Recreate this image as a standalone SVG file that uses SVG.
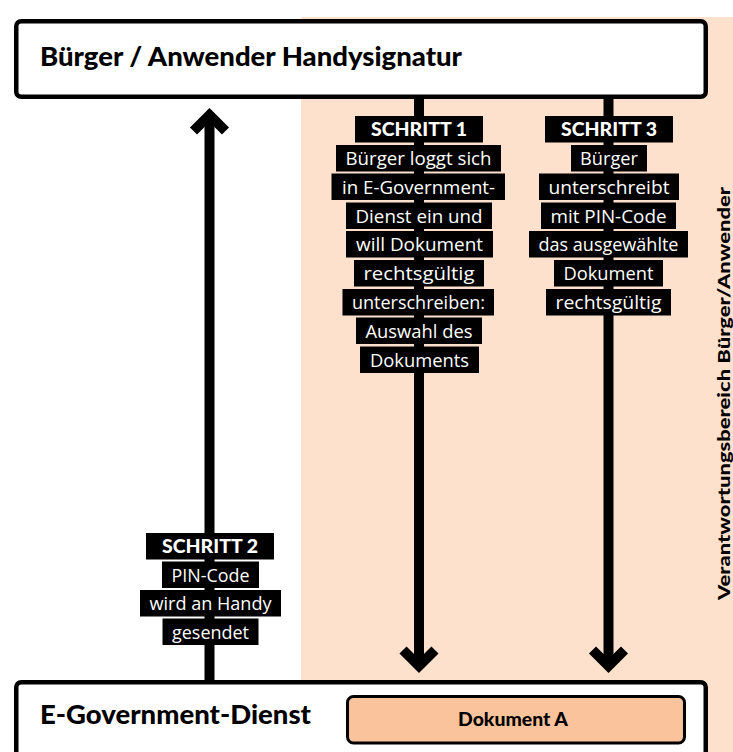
<svg xmlns="http://www.w3.org/2000/svg" width="733" height="752" viewBox="0 0 733 752">
<style>
  .node { fill: #ffffff; stroke: #000; stroke-width: 4.5; }
  .doc { fill: #fbc39b; stroke: #000; stroke-width: 3; }
  .title { font-family: Lato, "Liberation Sans", sans-serif; font-weight: 900; fill: #000; }
  .shaft { stroke: #000; stroke-width: 10; fill: none; }
  .head { stroke: #000; stroke-width: 10; fill: none; stroke-linejoin: miter; stroke-miterlimit: 10; }
  .lbl rect { fill: #000; }
  .lbl text { font-family: "Open Sans", "Liberation Sans", sans-serif; font-size: 18.5px; fill: #fff; text-anchor: middle; }
  .lbl text.step { font-family: Lato, "Liberation Sans", sans-serif; font-weight: 900; font-size: 18px; }
</style>
<rect id="zone" x="301" y="17" width="432" height="735" fill="#fde1cc"/>
<text class="title" font-size="16.5" transform="translate(729.5,393.5) rotate(-90)" text-anchor="middle" textLength="413" lengthAdjust="spacingAndGlyphs">Verantwortungsbereich Bürger/Anwender</text>

<g id="connectors">
  <line class="shaft" x1="419" y1="97" x2="419" y2="666"/>
  <polyline class="head" points="403,650 419,666 435,650"/>
  <line class="shaft" x1="608.5" y1="97" x2="608.5" y2="666"/>
  <polyline class="head" points="592.5,650 608.5,666 624.5,650"/>
  <line class="shaft" x1="209.5" y1="682" x2="209.5" y2="115"/>
  <polyline class="head" points="193.5,131 209.5,115 225.5,131"/>
</g>

<g id="node-buerger">
  <rect class="node" x="16.25" y="21.25" width="689.5" height="75.5" rx="5"/>
  <text class="title" x="40" y="65.5" font-size="26" textLength="422" lengthAdjust="spacingAndGlyphs">Bürger / Anwender Handysignatur</text>
</g>

<g id="node-egov">
  <rect class="node" x="16.25" y="682.25" width="689.5" height="100" rx="5"/>
  <text class="title" x="40" y="724" font-size="27" textLength="271" lengthAdjust="spacingAndGlyphs">E-Government-Dienst</text>
  <g id="node-dokument">
    <rect class="doc" x="347.5" y="696.5" width="337" height="46.5" rx="6"/>
    <text class="title" x="513" y="725.5" font-size="19" text-anchor="middle" textLength="110" lengthAdjust="spacingAndGlyphs">Dokument A</text>
  </g>
</g>

<g id="label-step1" class="lbl">
  <rect x="355" y="116" width="128" height="26.5"/><text class="step" x="419" y="135.5" textLength="96" lengthAdjust="spacingAndGlyphs">SCHRITT 1</text>
  <rect x="336" y="145" width="165" height="26.5"/><text x="418.5" y="165" textLength="146" lengthAdjust="spacingAndGlyphs">Bürger loggt sich</text>
  <rect x="331.5" y="173.5" width="173.5" height="26.5"/><text x="418.5" y="193.5" textLength="153" lengthAdjust="spacingAndGlyphs">in E-Government-</text>
  <rect x="346" y="202.5" width="146" height="26.5"/><text x="419" y="222.5" textLength="127" lengthAdjust="spacingAndGlyphs">Dienst ein und</text>
  <rect x="346" y="231" width="147" height="26.5"/><text x="419.5" y="251" textLength="127" lengthAdjust="spacingAndGlyphs">will Dokument</text>
  <rect x="354" y="260" width="130" height="26.5"/><text x="419" y="280" textLength="111" lengthAdjust="spacingAndGlyphs">rechtsgültig</text>
  <rect x="342.5" y="289" width="151.5" height="26.5"/><text x="418.5" y="309" textLength="133" lengthAdjust="spacingAndGlyphs">unterschreiben:</text>
  <rect x="356" y="317.5" width="126" height="26.5"/><text x="419" y="337.5" textLength="107" lengthAdjust="spacingAndGlyphs">Auswahl des</text>
  <rect x="360" y="346.5" width="119" height="26.5"/><text x="419.5" y="366.5" textLength="99" lengthAdjust="spacingAndGlyphs">Dokuments</text>
</g>

<g id="label-step3" class="lbl">
  <rect x="545" y="116" width="128" height="26.5"/><text class="step" x="609" y="135.5" textLength="96" lengthAdjust="spacingAndGlyphs">SCHRITT 3</text>
  <rect x="571" y="145" width="76" height="26.5"/><text x="609" y="165" textLength="58" lengthAdjust="spacingAndGlyphs">Bürger</text>
  <rect x="539" y="173.5" width="140" height="26.5"/><text x="609" y="193.5" textLength="121" lengthAdjust="spacingAndGlyphs">unterschreibt</text>
  <rect x="541" y="202.5" width="135" height="26.5"/><text x="608.5" y="222.5" textLength="116" lengthAdjust="spacingAndGlyphs">mit PIN-Code</text>
  <rect x="529" y="231" width="159" height="26.5"/><text x="608.5" y="251" textLength="140" lengthAdjust="spacingAndGlyphs">das ausgewählte</text>
  <rect x="554" y="260" width="109" height="26.5"/><text x="608.5" y="280" textLength="90" lengthAdjust="spacingAndGlyphs">Dokument</text>
  <rect x="546" y="289" width="125" height="26.5"/><text x="608.5" y="309" textLength="106" lengthAdjust="spacingAndGlyphs">rechtsgültig</text>
</g>

<g id="label-step2" class="lbl">
  <rect x="146" y="533" width="128" height="26.5"/><text class="step" x="210" y="552.5" textLength="96" lengthAdjust="spacingAndGlyphs">SCHRITT 2</text>
  <rect x="162" y="561.5" width="97" height="26.5"/><text x="210.5" y="581.5" textLength="78" lengthAdjust="spacingAndGlyphs">PIN-Code</text>
  <rect x="140" y="590" width="141" height="26.5"/><text x="210.5" y="610" textLength="122" lengthAdjust="spacingAndGlyphs">wird an Handy</text>
  <rect x="162.5" y="618.5" width="96" height="26.5"/><text x="210.5" y="638.5" textLength="77" lengthAdjust="spacingAndGlyphs">gesendet</text>
</g>
</svg>
